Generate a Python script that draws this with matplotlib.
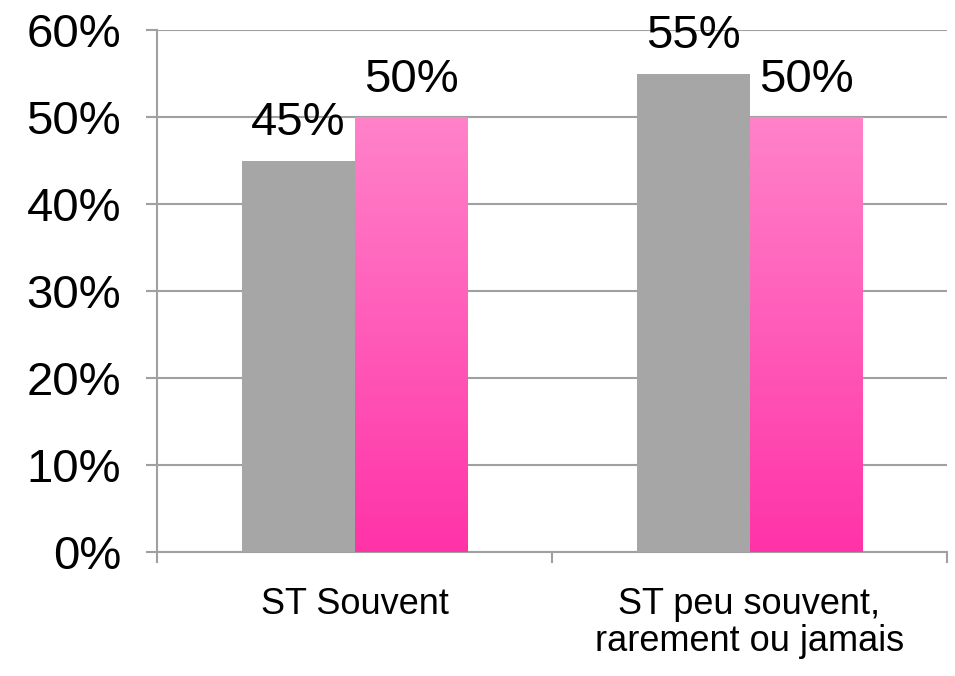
import matplotlib.pyplot as plt
import numpy as np
from matplotlib.colors import LinearSegmentedColormap

# data
categories = ['ST Souvent', 'ST peu souvent,\nrarement ou jamais']
serie_gris = [45, 55]
serie_rose = [50, 50]
yticks = [0, 10, 20, 30, 40, 50, 60]

plt.rcParams['font.family'] = ['Liberation Sans', 'DejaVu Sans']

fig = plt.figure(figsize=(9.55, 6.76), dpi=100)
ax = fig.add_axes([157 / 955, 1 - 552 / 676, 790 / 955, 522 / 676])

x = np.arange(len(categories))
w = 0.286

bars_g = ax.bar(x - w / 2, serie_gris, w, color='#a6a6a6', zorder=3)
bars_r = ax.bar(x + w / 2, serie_rose, w, color='none', zorder=3)

# dégradé rose
cmap = LinearSegmentedColormap.from_list('rose', ['#ff33a8', '#ff82c9'])
grad = np.linspace(0, 1, 256).reshape(-1, 1)
for b in bars_r:
    x0, y0 = b.get_x(), b.get_y()
    im = ax.imshow(grad, cmap=cmap, origin='lower', aspect='auto',
                   extent=[x0, x0 + b.get_width(), y0, y0 + b.get_height()], zorder=3)
    im.set_clip_path(b)

for b, v in zip(list(bars_g) + list(bars_r), serie_gris + serie_rose):
    ax.annotate(f'{v}%', (b.get_x() + b.get_width() / 2, v), xytext=(0, 11),
                textcoords='offset points', ha='center', va='bottom', fontsize=34)

ax.set_xlim(-0.5, 1.5)
ax.set_ylim(0, 60)
ax.set_yticks(yticks)
ax.set_yticklabels([f'{t}%' for t in yticks], fontsize=34)
ax.set_xticks(x)
ax.set_xticklabels(categories, fontsize=26, linespacing=1.1)
ax.set_xticks([-0.5, 0.5, 1.5], minor=True)
ax.tick_params(axis='x', which='major', length=0, pad=25)
ax.tick_params(axis='x', which='minor', length=8, color='#a0a0a0', width=1.5)
ax.tick_params(axis='y', length=8, color='#a0a0a0', width=1.5, pad=18)

ax.yaxis.grid(True, color='#a0a0a0', linewidth=1.5, zorder=0)
for s in ['top', 'right']:
    ax.spines[s].set_visible(False)
for s in ['left', 'bottom']:
    ax.spines[s].set_color('#a0a0a0')
    ax.spines[s].set_linewidth(1.5)

plt.savefig('out.png')
